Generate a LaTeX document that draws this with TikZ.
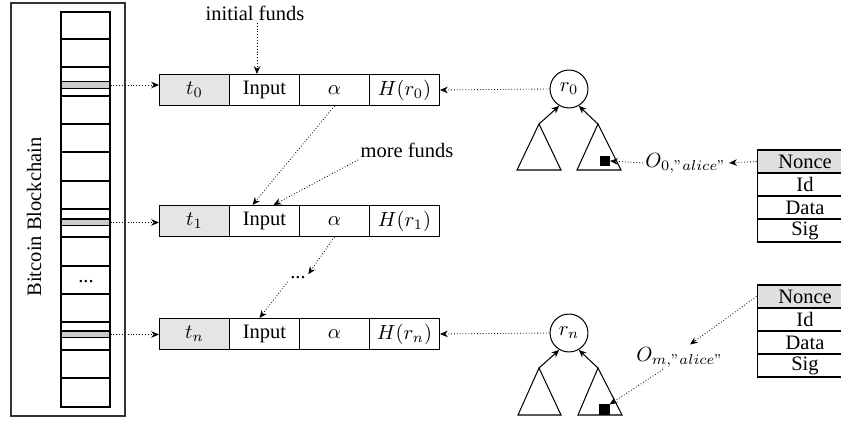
\documentclass[tikz,border=0pt]{standalone}
\usepackage[no-math]{fontspec}
\setmainfont{Liberation Serif}
\usetikzlibrary{arrows.meta,calc}
\begin{document}
\begin{tikzpicture}[x=0.4878pt,y=-0.4878pt,
  line width=0.5pt,
  cell/.style={draw, minimum width=34.15pt, minimum height=15.12pt, inner sep=0pt},
  tcell/.style={cell, fill=gray!20},
  tab/.style={draw, minimum width=46.8pt, minimum height=11.22pt, inner sep=0pt},
  band/.style={draw, fill=gray!40, minimum width=23.9pt, minimum height=3.4pt, inner sep=0pt},
  root/.style={draw, circle, minimum size=18.5pt, inner sep=0pt},
  leaf/.style={draw, fill=black, minimum size=4.4pt, inner sep=0pt},
  lbl/.style={inner sep=1pt},
  flow/.style={line width=0.4pt, densely dotted, -{Stealth[length=3.8pt,width=3.2pt]}},
  tarrow/.style={-{Stealth[length=3.8pt,width=3.2pt]}}
]
\clip (0,0) rectangle (841,421);
% blockchain
\draw[draw=black!80] (11,3) rectangle (125,416);
\draw (61,12) rectangle (110,407);
\foreach \y in {39,67,96,124,152,181,209,237,266,294,322,350,378}
  \draw (61,\y) -- (110,\y);
\node[band] (b0) at (85.5,85) {};
\node[band] (b1) at (85.5,222.5) {};
\node[band] (bn) at (85.5,334.5) {};
\node (cdots) at (86,282) {...};
\node[rotate=90] (chain) at (34,217) {Bitcoin Blockchain};

% transaction rows
\node[tcell] (t0) at (194.5,90) {$t_0$};
\node[cell] (in0) at (264.5,90) {Input};
\node[cell] (a0) at (334.5,90) {$\alpha$};
\node[cell] (h0) at (404.5,90) {$H(r_0)$};

\node[tcell] (t1) at (194.5,221) {$t_1$};
\node[cell] (in1) at (264.5,221) {Input};
\node[cell] (a1) at (334.5,221) {$\alpha$};
\node[cell] (h1) at (404.5,221) {$H(r_1)$};

\node[tcell] (tn) at (194.5,334) {$t_n$};
\node[cell] (inn) at (264.5,334) {Input};
\node[cell] (an) at (334.5,334) {$\alpha$};
\node[cell] (hn) at (404.5,334) {$H(r_n)$};

\draw[flow] (b0.east) -- (b0.east -| t0.west);
\draw[flow] (b1.east) -- (b1.east -| t1.west);
\draw[flow] (bn.east) -- (bn.east -| tn.west);

% funds
\node[lbl] (ifunds) at (255,13) {initial funds};
\draw[flow] ($(ifunds.south)+(2,0)$) -- ($(in0.north)+(-7.5,0)$);
\node[lbl] (mfunds) at (407,150) {more funds};
\draw[flow] (mfunds.south west) -- ($(in1.north)+(9,0)$);
\draw[flow] (a0.south) -- ($(in1.north)+(-12,0)$);
\node[lbl] (mdots) at (298,278) {...};
\draw[flow] (a1.south) -- (mdots.north east);
\draw[flow] (mdots.south west) -- ($(inn.north)+(-5,0)$);

% tree 0
\node[root] (r0) at (569,89) {$r_0$};
\draw[flow] (r0.west) -- (h0.east);
\coordinate (l0) at (539,124);
\coordinate (g0) at (598,124);
\draw (l0) -- (517,170) -- (561,170) -- cycle;
\draw (g0) -- (577,170) -- (621,170) -- cycle;
\draw[tarrow] (l0) -- (r0.240);
\draw[tarrow] (g0) -- (r0.300);
\node[leaf] (s0) at (605,161) {};
\node[lbl] (o0) at (686,163) {$O_{0,"alice"}$};
\draw[flow] (o0.west) -- (s0.east);

% table 0
\node[tab, fill=gray!25] (n0) at (805,161.5) {Nonce};
\node[tab] (id0) at (805,184.5) {Id};
\node[tab] (d0) at (805,207.5) {Data};
\node[tab] (sg0) at (805,230.5) {Sig};
\draw[flow] (n0.west) -- (o0.east);

% tree n
\node[root] (rn) at (569,333) {$r_n$};
\draw[flow] (rn.west) -- (hn.east);
\coordinate (ln) at (539,368);
\coordinate (gn) at (598,368);
\draw (ln) -- (518,415) -- (561,415) -- cycle;
\draw (gn) -- (578,415) -- (622,415) -- cycle;
\draw[tarrow] (ln) -- (rn.240);
\draw[tarrow] (gn) -- (rn.300);
\node[leaf] (sn) at (604.5,409.5) {};
\node[lbl] (om) at (680,357) {$O_{m,"alice"}$};
\draw[flow] ($(om.south)+(-17,0)$) -- (sn.north east);

% table n
\node[tab, fill=gray!25] (nn) at (805,296.5) {Nonce};
\node[tab] (idn) at (805,319.5) {Id};
\node[tab] (dn) at (805,342.5) {Data};
\node[tab] (sgn) at (805,365.5) {Sig};
\draw[flow] (nn.west) -- ($(om.north)+(10,0)$);
\end{tikzpicture}
\end{document}
